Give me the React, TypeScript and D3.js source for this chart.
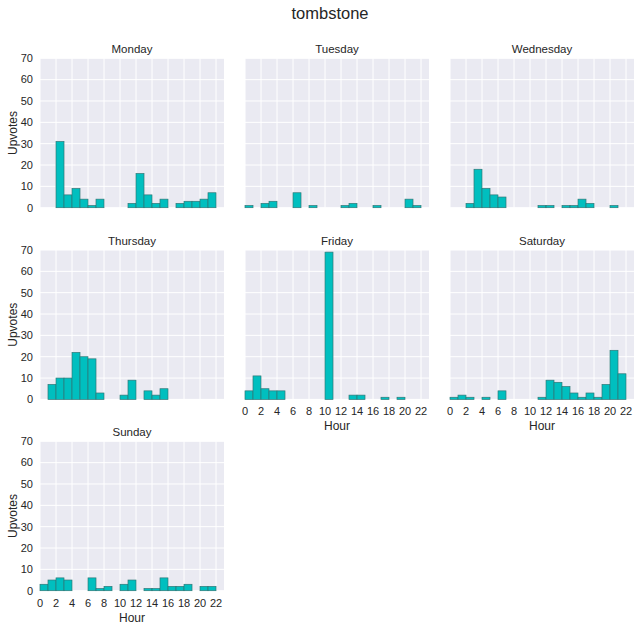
import React from "react";
import * as d3 from "d3";

// ---- Data (upvotes summed per hourly bin, per weekday) ----
const days = ["Monday", "Tuesday", "Wednesday", "Thursday", "Friday", "Saturday", "Sunday"];
// first hour of each day's histogram range
const binStartHour = [1, 0, 1, 0, 0, 0, 0];
const mondayVotes = [0, 31, 6, 9, 4, 1, 4, 0, 0, 0, 2, 16, 6, 2, 4, 0, 2, 3, 3, 4, 7];
const tuesdayVotes = [1, 0, 2, 3, 0, 0, 7, 0, 1, 0, 0, 0, 1, 2, 0, 0, 1, 0, 0, 0, 4, 1];
const wednesdayVotes = [0, 2, 18, 9, 6, 5, 0, 0, 0, 0, 1, 1, 0, 1, 1, 4, 2, 0, 0, 1];
const thursdayVotes = [0, 7, 10, 10, 22, 20, 19, 3, 0, 0, 2, 9, 0, 4, 2, 5, 0, 0, 0, 0, 0, 0];
const fridayVotes = [4, 11, 5, 4, 4, 0, 0, 0, 0, 0, 69, 0, 0, 2, 2, 0, 0, 1, 0, 1, 0, 0];
const saturdayVotes = [1, 2, 1, 0, 1, 0, 4, 0, 0, 0, 0, 1, 9, 8, 6, 3, 1, 3, 1, 7, 23, 12];
const sundayVotes = [3, 5, 6, 5, 0, 0, 6, 1, 2, 0, 3, 5, 0, 1, 1, 6, 2, 2, 3, 0, 2, 2];
const votesByDay = [mondayVotes, tuesdayVotes, wednesdayVotes, thursdayVotes, fridayVotes, saturdayVotes, sundayVotes];

const xTicks = [0, 2, 4, 6, 8, 10, 12, 14, 16, 18, 20, 22];
const yTicks = [0, 10, 20, 30, 40, 50, 60, 70];
const xDomain = [0, 23];
const yDomain = [0, 70];
const chartTitle = "tombstone";
const xLabel = "Hour";
const yLabel = "Upvotes";

// ---- Layout ----
const W = 640;
const H = 631;
const colLeft = [40, 245, 450];
const rowTop = [58.3, 250, 441.3];
const panelW = 184;
const panelH = 149.4;
const FONT = "'Liberation Sans', Arial, Helvetica, sans-serif";
const BG = "#EAEAF2";
const BAR = "#00BFBF";
const EDGE = "#2f7777";
const TXT = "#262626";

function Panel({ idx }: { idx: number }) {
  const col = idx % 3;
  const row = Math.floor(idx / 3);
  const left = colLeft[col];
  const top = rowTop[row];
  const x = d3.scaleLinear().domain(xDomain).range([left, left + panelW]);
  const y = d3.scaleLinear().domain(yDomain).range([top + panelH, top]);
  const votes = votesByDay[idx];
  const start = binStartHour[idx];
  const bottom = top + panelH;
  const showX = idx >= 4;
  const showY = col === 0;
  return (
    <g>
      <rect x={left} y={top} width={panelW} height={panelH} fill={BG} />
      {xTicks.map((t) => (
        <line key={"gx" + t} x1={x(t)} x2={x(t)} y1={top} y2={bottom} stroke="#fff" strokeWidth={1} />
      ))}
      {yTicks.map((t) => (
        <line key={"gy" + t} x1={left} x2={left + panelW} y1={y(t)} y2={y(t)} stroke="#fff" strokeWidth={1} />
      ))}
      {votes.map((v, i) => {
        const x0 = x(start + i);
        const x1 = x(start + i + 1);
        return (
          <rect
            key={"b" + i}
            x={x0}
            y={y(v)}
            width={x1 - x0}
            height={y(0) - y(v)}
            fill={BAR}
            stroke={v === 0 ? "#a8a8b2" : EDGE}
            strokeWidth={v === 0 ? 0.7 : 0.7}
          />
        );
      })}
      <text x={left + panelW / 2} y={top - 5} textAnchor="middle" fontSize={11.5} fill={TXT} fontFamily={FONT}>
        {days[idx]}
      </text>
      {showY &&
        yTicks.map((t) => (
          <text key={"ty" + t} x={left - 7} y={y(t)} dy="0.35em" textAnchor="end" fontSize={11} fill={TXT} fontFamily={FONT}>
            {t}
          </text>
        ))}
      {showY && (
        <text
          transform={`translate(${left - 23},${top + panelH / 2}) rotate(-90)`}
          textAnchor="middle"
          fontSize={12}
          fill={TXT}
          fontFamily={FONT}
        >
          {yLabel}
        </text>
      )}
      {showX &&
        xTicks.map((t) => (
          <text key={"tx" + t} x={x(t)} y={bottom + 16} textAnchor="middle" fontSize={11} fill={TXT} fontFamily={FONT}>
            {t}
          </text>
        ))}
      {showX && (
        <text x={left + panelW / 2} y={bottom + 31} textAnchor="middle" fontSize={12} fill={TXT} fontFamily={FONT}>
          {xLabel}
        </text>
      )}
    </g>
  );
}

export default function App() {
  return (
    <svg
      width={W}
      height={H}
      viewBox={`0 0 ${W} ${H}`}
      style={{ position: "absolute", left: 0, top: 0, display: "block", background: "#fff" }}
    >
      <rect width={W} height={H} fill="#fff" />
      <text x={330} y={19} textAnchor="middle" fontSize={16.5} fill={TXT} fontFamily={FONT}>
        {chartTitle}
      </text>
      {days.map((_, i) => (
        <Panel key={i} idx={i} />
      ))}
    </svg>
  );
}
